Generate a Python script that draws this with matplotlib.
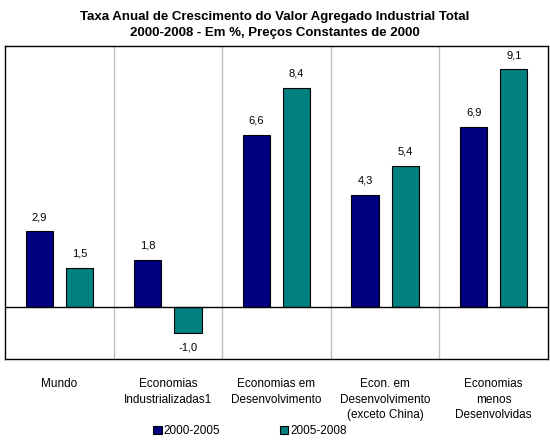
import matplotlib.pyplot as plt
import numpy as np

categories = ["Mundo", "Economias\nIndustrializadas1", "Economias em\nDesenvolvimento",
              "Econ. em\nDesenvolvimento\n(exceto China)", "Economias\nmenos\nDesenvolvidas"]
s1_label = "2000-2005"
s2_label = "2005-2008"
s1 = [2.9, 1.8, 6.6, 4.3, 6.9]
s2 = [1.5, -1.0, 8.4, 5.4, 9.1]

plt.rcParams['font.family'] = ['Liberation Sans', 'DejaVu Sans']
fig = plt.figure(figsize=(5.5, 4.45), dpi=100)
ax = fig.add_axes([5 / 550, 1 - 359 / 445, 543 / 550, 313 / 445])

x = np.arange(len(categories))
w = 0.25
b1 = ax.bar(x - 0.185, s1, w, color="#000080", edgecolor="black", linewidth=0.8, label=s1_label, zorder=3)
b2 = ax.bar(x + 0.185, s2, w, color="#008080", edgecolor="black", linewidth=0.8, label=s2_label, zorder=3)

for bars, vals in ((b1, s1), (b2, s2)):
    for r, v in zip(bars, vals):
        txt = f"{v:.1f}".replace(".", ",")
        if v >= 0:
            ax.text(r.get_x() + r.get_width() / 2, v + 0.35, txt, ha="center", va="bottom", fontsize=8)
        else:
            ax.text(r.get_x() + r.get_width() / 2, v - 0.35, txt, ha="center", va="top", fontsize=8)

ax.set_xlim(-0.5, len(categories) - 0.5)
ax.set_ylim(-2, 10)
for i in range(1, len(categories)):
    ax.axvline(i - 0.5, color="#c0c0c0", linewidth=1, zorder=1)
ax.axhline(0, color="black", linewidth=1, zorder=4)
ax.set_yticks([])
ax.set_xticks(x)
ax.set_xticklabels(categories, fontsize=8.5, linespacing=1.35, va="top")
ax.tick_params(axis="x", length=0, pad=14)
for sp in ax.spines.values():
    sp.set_linewidth(1)

fig.text(0.5, 1 - 25 / 445, "Taxa Anual de Crescimento do Valor Agregado Industrial Total\n2000-2008 - Em %, Preços Constantes de 2000",
         ha="center", va="center", fontsize=9.5, fontweight="bold", linespacing=1.5)

fig.legend(handles=[b1, b2], loc="center", bbox_to_anchor=(250 / 550, 1 - 431 / 445), ncol=2, frameon=False,
           fontsize=8.5, handlelength=0.7, handleheight=0.7, handletextpad=0.2, columnspacing=5)

fig.savefig("out.png", dpi=100)
